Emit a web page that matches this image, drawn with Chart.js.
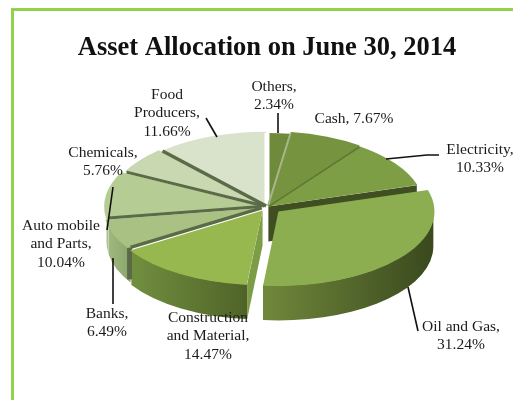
<!DOCTYPE html>
<html><head><meta charset="utf-8">
<style>
html,body{margin:0;padding:0;background:#fff;overflow:hidden}
#frame{position:absolute;left:11px;top:8px;width:520px;height:420px;border:3px solid #92d050;box-sizing:border-box}
canvas{position:absolute;left:0;top:0}
</style>
<script src="https://cdn.jsdelivr.net/npm/chart.js@4/dist/chart.umd.min.js"></script>
</head><body>
<div id="frame"></div>
<canvas id="c" width="513" height="400"></canvas>
<script>
const titleText = 'Asset Allocation on June 30, 2014';
const categories = ['Others','Cash','Electricity','Oil and Gas','Construction and Material','Banks','Auto mobile and Parts','Chemicals','Food Producers'];
const values = [2.34,7.67,10.33,31.24,14.47,6.49,10.04,5.76,11.66];
const wordsPerLine = [[1,1],[2],[1,1],[3,1],[1,2,1],[1,1],[2,2,1],[1,1],[1,1,1]];
const topColors = ['#6f8a3a','#76933f','#7e9e46','#8dae50','#96b84f','#a9c283','#b6cc95','#c9d8b0','#d9e2cb'];
const wallRight = [null,null,null,'#3a491e','#4f6328','#8aa56a','#a7bd8a',null,null];
const wallLeft  = [null,null,null,'#70883b','#728f3f','#9fb880','#b5c99c',null,null];
const faceColors = ['#a3ad8c',null,'#3f4f22',null,'#7d9c46',null,null,null,null];
const seamColors = ['#ffffff','#a7b388','#5f7a30',null,null,'#5b6b48','#5b6b48','#5b6b48','#5b6b48'];
const seamWidths = [5,2,2,0,0,3.5,3,3,3.5];
const explode = [0,9,6,52,30,20,20,12,8];
const labelCenters = [[274,87],[354,119],[480,150],[461,327],[208,318],[107,314],[61,226],[103,153],[167,95]];
const leaderLines = [
  [[278,113],[278,133]],[],[[386,159],[427,155],[439,155]],[[408,287],[418,331]],[],
  [[113,258],[113,304]],[[113,187],[107,230]],[],[[206,118],[217,137]]
];
const pieCx = 267, pieCy = 207, pieRx = 155, pieRy = 74, pieDepth = 35;
const labelFont = '15.5px "Liberation Serif"', lineHeight = 18.3;

function labelLines(i){
  const w = (categories[i]+', '+values[i].toFixed(2)+'%').split(' ');
  let n = 0;
  return wordsPerLine[i].map(c => { const s = w.slice(n,n+c).join(' '); n += c; return s; });
}
function geo(el,i){
  const a = el.getProps(['startAngle','endAngle','outerRadius']);
  const mid = (a.startAngle+a.endAngle)/2, d = (el.options.offset/4)*pieRx/a.outerRadius;
  return {start:a.startAngle,end:a.endAngle,mid,
    cx:pieCx+Math.cos(mid)*d, cy:pieCy+Math.sin(mid)*d*pieRy/pieRx};
}
const pie3d = {
  id:'pie3d',
  beforeDatasetsDraw(chart){
    const ctx = chart.ctx, arcs = chart.getDatasetMeta(0).data;
    const g = arcs.map((el,i)=>geo(el,i));
    g.map((_,i)=>i).sort((a,b)=>Math.sin(g[a].mid)-Math.sin(g[b].mid)).forEach(i=>{
      const s = g[i];
      if (faceColors[i]) {
        const a = (i===0||i===4) ? s.start : s.end;
        ctx.fillStyle = faceColors[i];
        ctx.beginPath();
        ctx.moveTo(s.cx,s.cy);
        ctx.lineTo(s.cx+pieRx*Math.cos(a),s.cy+pieRy*Math.sin(a));
        ctx.lineTo(s.cx+pieRx*Math.cos(a),s.cy+pieRy*Math.sin(a)+pieDepth);
        ctx.lineTo(s.cx,s.cy+pieDepth);
        ctx.closePath(); ctx.fill();
      }
      const a1 = Math.max(s.start,0), a2 = Math.min(s.end,Math.PI);
      if (wallRight[i] && a2>a1) {
        const gr = ctx.createLinearGradient(s.cx+pieRx*Math.cos(a1),0,s.cx+pieRx*Math.cos(a2),0);
        gr.addColorStop(0,wallRight[i]); gr.addColorStop(1,wallLeft[i]);
        ctx.fillStyle = gr;
        ctx.beginPath();
        ctx.ellipse(s.cx,s.cy,pieRx,pieRy,0,a1,a2);
        ctx.ellipse(s.cx,s.cy+pieDepth,pieRx,pieRy,0,a2,a1,true);
        ctx.closePath(); ctx.fill();
      }
    });
    const c = g[5], x = c.cx+pieRx*Math.cos(c.start), y = c.cy+pieRy*Math.sin(c.start);
    ctx.strokeStyle = seamColors[5]; ctx.lineWidth = 5;
    ctx.beginPath(); ctx.moveTo(x-1,y); ctx.lineTo(x-1,y+pieDepth-3); ctx.stroke();
    const el = arcs[0], k = pieRx/el.outerRadius, ky = pieRy/el.outerRadius;
    ctx.save();
    ctx.translate(pieCx,pieCy); ctx.scale(k,ky); ctx.translate(-el.x,-el.y);
  },
  afterDatasetsDraw(chart){
    const ctx = chart.ctx, arcs = chart.getDatasetMeta(0).data;
    ctx.restore();
    arcs.forEach((el,i)=>{
      if(!seamColors[i]) return;
      const s = geo(el,i);
      ctx.strokeStyle = seamColors[i]; ctx.lineWidth = seamWidths[i];
      ctx.beginPath(); ctx.moveTo(s.cx,s.cy);
      ctx.lineTo(s.cx+pieRx*Math.cos(s.start),s.cy+pieRy*Math.sin(s.start)); ctx.stroke();
    });
    ctx.strokeStyle='#111'; ctx.lineWidth=1.6;
    leaderLines.forEach(l=>{ if(!l.length) return;
      ctx.beginPath(); l.forEach((p,j)=> j?ctx.lineTo(p[0],p[1]):ctx.moveTo(p[0],p[1])); ctx.stroke(); });
    ctx.fillStyle='#1a1a1a'; ctx.font=labelFont; ctx.textAlign='center'; ctx.textBaseline='middle';
    categories.forEach((_,i)=>labelLines(i).forEach((t,j)=>
      ctx.fillText(t,labelCenters[i][0],labelCenters[i][1]+j*lineHeight)));
  }
};
new Chart(document.getElementById('c'),{
  type:'pie',
  data:{labels:categories,datasets:[{data:values,backgroundColor:topColors,borderWidth:0,offset:explode}]},
  options:{
    responsive:false,animation:false,events:[],
    layout:{padding:{left:21,top:0,right:0,bottom:0}},
    plugins:{
      legend:{display:false},tooltip:{enabled:false},
      title:{display:true,text:titleText,color:'#111',
        font:{family:'"Liberation Serif"',size:26.5,weight:'bold',lineHeight:1.2},padding:{top:32,bottom:10}}
    }
  },
  plugins:[pie3d]
});
</script>
</body></html>
